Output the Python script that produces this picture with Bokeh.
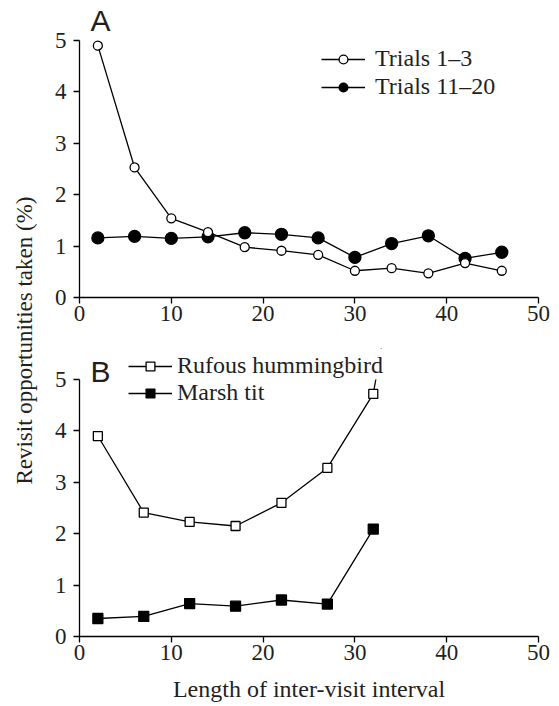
from bokeh.plotting import figure
from bokeh.models import Range1d, FixedTicker, Legend, LegendItem, Label, BoxAnnotation
from bokeh.layouts import row, column
from bokeh.embed import file_html
from bokeh.resources import INLINE

# ---------------- data ----------------
# Panel A
a_x = [2, 6, 10, 14, 18, 22, 26, 30, 34, 38, 42, 46]
trials_1_3 = [4.90, 2.53, 1.54, 1.27, 0.98, 0.91, 0.83, 0.52, 0.57, 0.47, 0.67, 0.52]
trials_11_20 = [1.16, 1.19, 1.15, 1.18, 1.26, 1.23, 1.16, 0.78, 1.05, 1.20, 0.76, 0.88]

# Panel B (last hummingbird point lies above the axis top and is cut off)
hb_x = [2, 7, 12, 17, 22, 27, 32, 37]
rufous_hummingbird = [3.90, 2.41, 2.23, 2.15, 2.60, 3.28, 4.72, 9.8]
tit_x = [2, 7, 12, 17, 22, 27, 32]
marsh_tit = [0.35, 0.39, 0.64, 0.59, 0.71, 0.63, 2.09]

x_ticks = [0, 10, 20, 30, 40, 50]
y_ticks = [0, 1, 2, 3, 4, 5]
AXIS_TOP = 5

SERIF = "Liberation Serif"
SANS = "Liberation Sans"
TXT = "#231f20"
LW = 1.3


def make_panel(height, top, bottom, y_end):
    p = figure(width=502, height=height, x_range=Range1d(0, 50), y_range=Range1d(0, y_end),
               output_backend="svg", toolbar_location=None,
               min_border_left=29, min_border_right=14,
               min_border_top=top, min_border_bottom=bottom)
    p.outline_line_color = None
    p.xgrid.visible = False
    p.ygrid.visible = False
    for ax in (p.xaxis[0], p.yaxis[0]):
        ax.axis_line_color = "black"
        ax.axis_line_width = LW
        ax.major_tick_line_color = "black"
        ax.major_tick_line_width = LW
        ax.major_tick_in = 0
        ax.major_tick_out = 6
        ax.minor_tick_line_color = None
        ax.major_label_text_font = SERIF
        ax.major_label_text_font_size = "23px"
        ax.major_label_text_font_style = "normal"
        ax.major_label_text_color = TXT
    p.xaxis.ticker = FixedTicker(ticks=x_ticks)
    p.yaxis.ticker = FixedTicker(ticks=y_ticks)
    p.yaxis.bounds = (0, AXIS_TOP)
    p.xaxis.major_label_standoff = 2
    p.yaxis.major_label_standoff = 7
    return p


def style_legend(leg, standoff, spacing):
    leg.border_line_color = None
    leg.background_fill_alpha = 0
    leg.padding = 0
    leg.margin = 0
    leg.spacing = spacing
    leg.glyph_width = 44
    leg.glyph_height = 22
    leg.label_height = 22
    leg.label_standoff = standoff
    leg.label_text_font = SERIF
    leg.label_text_font_size = "24px"
    leg.label_text_font_style = "normal"
    leg.label_text_color = TXT
    leg.label_text_baseline = "middle"


# ---------------- panel A ----------------
pa = make_panel(337, 7, 40, 5.642)
la1 = pa.line(a_x, trials_1_3, line_color="black", line_width=LW)
la2 = pa.line(a_x, trials_11_20, line_color="black", line_width=LW)
sa2 = pa.scatter(a_x, trials_11_20, marker="circle", size=12, fill_color="black",
                 line_color="black", line_width=LW)
sa1 = pa.scatter(a_x, trials_1_3, marker="circle", size=9, fill_color="white",
                 line_color="black", line_width=LW)
leg_a = Legend(items=[LegendItem(label="Trials 1–3", renderers=[la1, sa1]),
                      LegendItem(label="Trials 11–20", renderers=[la2, sa2])],
               location=(242, 197))
style_legend(leg_a, 10, 1)
pa.add_layout(leg_a)
pa.add_layout(Label(x=1.2, y=5.39, text="A", text_font=SANS, text_font_size="30px",
                    text_color=TXT, text_baseline="alphabetic"))

# ---------------- panel B ----------------
pb = make_panel(367, 11, 68, 5.603)
lb1 = pb.line(hb_x, rufous_hummingbird, line_color="black", line_width=LW)
sb1 = pb.scatter(hb_x, rufous_hummingbird, marker="square", size=9, fill_color="white",
                 line_color="black", line_width=LW)
# the plotted area ends at the top of the axis: hide what lies above it
pb.renderers.append(BoxAnnotation(bottom=AXIS_TOP, fill_color="white", fill_alpha=1,
                                  line_alpha=0, level="glyph"))
lb2 = pb.line(tit_x, marsh_tit, line_color="black", line_width=LW)
sb2 = pb.scatter(tit_x, marsh_tit, marker="square", size=10, fill_color="black",
                 line_color="black", line_width=LW)
leg_b = Legend(items=[LegendItem(label="Rufous hummingbird", renderers=[lb1, sb1]),
                      LegendItem(label="Marsh tit", renderers=[lb2, sb2])],
               location=(49, 230))
style_legend(leg_b, 5, 0)
pb.add_layout(leg_b)
pb.add_layout(Label(x=1.2, y=5.15, text="B", text_font=SANS, text_font_size="30px",
                    text_color=TXT, text_baseline="alphabetic"))
pb.xaxis.axis_label = "Length of inter-visit interval"
pb.xaxis.axis_label_text_font = SERIF
pb.xaxis.axis_label_text_font_size = "24px"
pb.xaxis.axis_label_text_font_style = "normal"
pb.xaxis.axis_label_text_color = TXT
pb.xaxis.axis_label_standoff = 13

# ---------------- shared y-axis label ----------------
pl = figure(width=50, height=337 + 367, x_range=Range1d(0, 1), y_range=Range1d(0, 1),
            output_backend="svg", toolbar_location=None, min_border=0)
pl.axis.visible = False
pl.grid.visible = False
pl.outline_line_color = None
pl.add_layout(Label(x=0.48, y=0.517, text="Revisit opportunities taken (%)",
                    angle=90, angle_units="deg", text_font=SERIF, text_font_size="23px",
                    text_color=TXT, text_align="center", text_baseline="middle"))

layout = row(pl, column(pa, pb))
open("out.html", "w").write(file_html(layout, INLINE))
